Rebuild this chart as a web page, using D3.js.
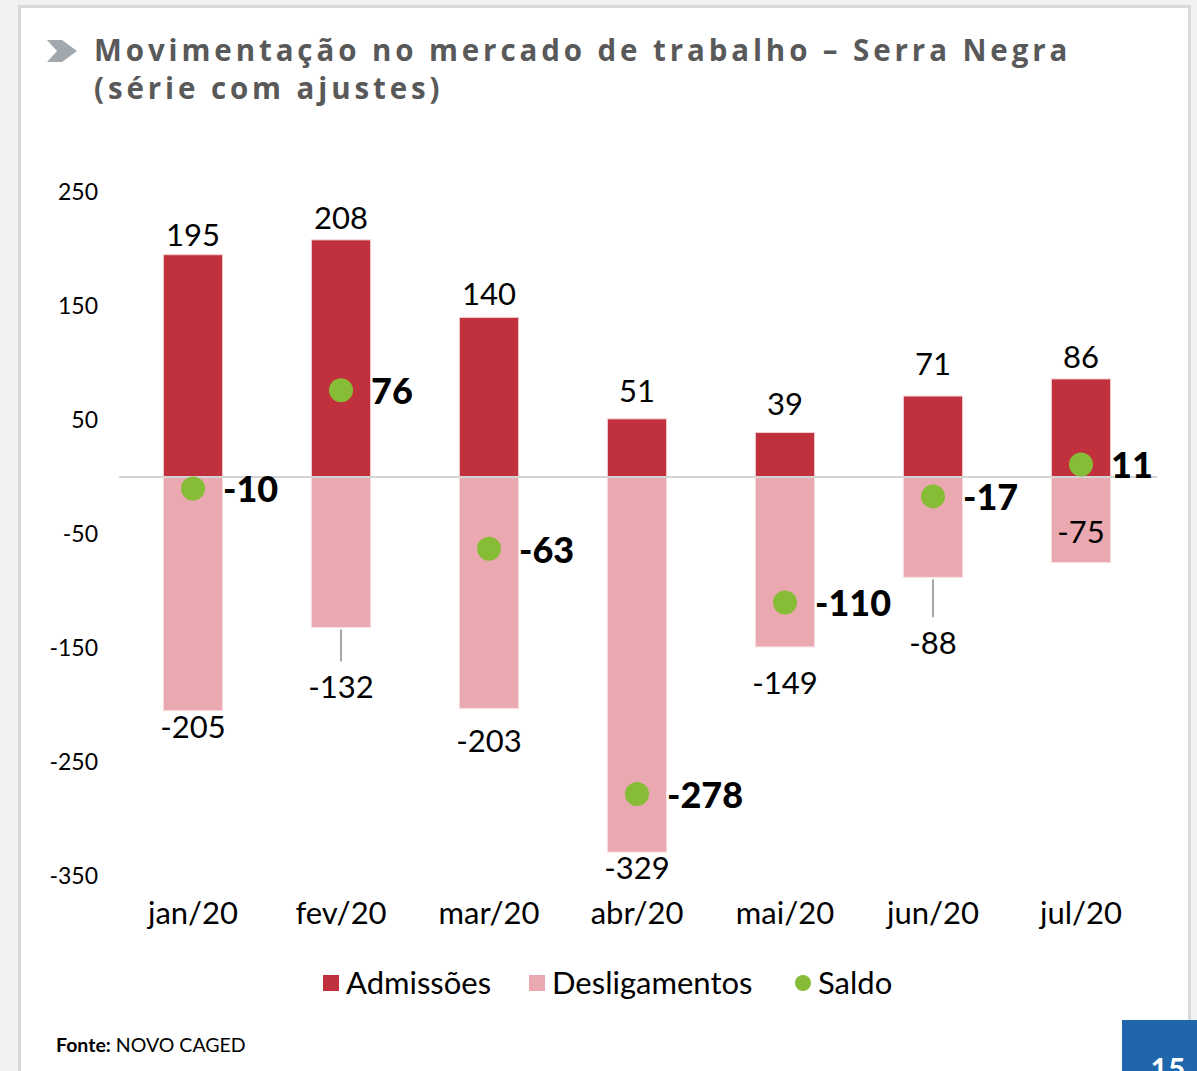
<!DOCTYPE html>
<html><head><meta charset="utf-8">
<script src="https://cdn.jsdelivr.net/npm/d3@7"></script>
<style>
html,body{margin:0;padding:0;background:#f2f2f2;}
svg{display:block;}
</style></head>
<body>
<script>
const categories = ["jan/20","fev/20","mar/20","abr/20","mai/20","jun/20","jul/20"];
const admissoes = [195, 208, 140, 51, 39, 71, 86];
const desligamentos = [-205, -132, -203, -329, -149, -88, -75];
const saldo = [-10, 76, -63, -278, -110, -17, 11];
const yTicks = [250, 150, 50, -50, -150, -250, -350];
const seriesNames = ["Admissões", "Desligamentos", "Saldo"];
const titleLines = ["Movimentação no mercado de trabalho – Serra Negra", "(série com ajustes)"];

const W = 1197, H = 1071;
const colors = {adm:"#c0303d", des:"#eaa9b0", sal:"#86bc36"};
const font = "Lato, 'DejaVu Sans', sans-serif";

const svg = d3.select("body").append("svg").attr("width", W).attr("height", H);

// card
svg.append("rect").attr("x",0).attr("y",0).attr("width",W).attr("height",H).attr("fill","#f2f2f2");
svg.append("rect").attr("x",19.5).attr("y",6.5).attr("width",1170).attr("height",1100)
  .attr("fill","#fff").attr("stroke","#d9d9d9").attr("stroke-width",3);

// title arrow
svg.append("path").attr("d","M47,40 L62,40 L77,51 L62,62 L47,62 L57,51 Z").attr("fill","#a2a9ae");
const title = svg.append("text").attr("font-family","'Open Sans', Lato, sans-serif").attr("font-weight",700)
  .attr("font-size",29.5).attr("fill","#595959").attr("letter-spacing",3.9);
titleLines.forEach((t,i)=>{
  title.append("tspan").attr("x",94).attr("y",61 + i*38).text(t);
});

const x = d3.scaleBand().domain(categories).range([119,1155]).paddingInner(0.6).paddingOuter(0.3);
const y = d3.scaleLinear().domain([-350,250]).range([876,192]);

// y axis labels
const yAxis = d3.axisLeft(y).tickValues(yTicks).tickSize(0).tickPadding(0).tickFormat(d=>String(d));
const ya = svg.append("g").attr("transform","translate(98,0)").call(yAxis);
ya.select(".domain").remove();
ya.selectAll("text").attr("font-family",font).attr("font-size",23).attr("fill","#000");

// bars
const g = svg.append("g");
g.selectAll(".adm").data(admissoes).join("rect")
  .attr("x",(d,i)=>x(categories[i])).attr("width",x.bandwidth())
  .attr("y",d=>y(d)).attr("height",d=>y(0)-y(d)).attr("fill",colors.adm)
  .attr("stroke","#f3d0d3").attr("stroke-width",1);
g.selectAll(".des").data(desligamentos).join("rect")
  .attr("x",(d,i)=>x(categories[i])).attr("width",x.bandwidth())
  .attr("y",y(0)).attr("height",d=>y(d)-y(0)).attr("fill",colors.des)
  .attr("stroke","#f8dde0").attr("stroke-width",1);

// zero line
svg.append("line").attr("x1",119).attr("x2",1157).attr("y1",y(0)).attr("y2",y(0))
  .attr("stroke","#d4d4d4").attr("stroke-width",2);

// x axis labels
const xAxis = d3.axisBottom(x).tickSize(0).tickPadding(0);
const xa = svg.append("g").attr("transform","translate(0,924)").call(xAxis);
xa.select(".domain").remove();
xa.selectAll("text").attr("dy",0).attr("font-family",font).attr("font-size",31).attr("fill","#000");

const cx = i => x(categories[i]) + x.bandwidth()/2;

// admissoes labels (extra lift for some labels as in the original)
const admLift = [0, 2, 3, 8, 9, 12, 2];
svg.append("g").selectAll("text").data(admissoes).join("text")
  .attr("x",(d,i)=>cx(i)).attr("y",(d,i)=>y(d)-9-admLift[i]).attr("text-anchor","middle")
  .attr("font-family",font).attr("font-size",31).attr("fill","#000").text(d=>d);

// desligamentos labels (with leader lines where shown)
const desLeader = [0, 44, 0, 0, 0, 50, 0];
const desDrop = [0, 0, 17, 0, 20, 0, 0];
const desInside = [false,false,false,false,false,false,true];
const dl = svg.append("g");
desligamentos.forEach((d,i)=>{
  let ly;
  if (desInside[i]) ly = y(d) - 20;
  else ly = y(d) + 27 + desLeader[i] + desDrop[i];
  if (desLeader[i] > 0) {
    dl.append("line").attr("x1",cx(i)).attr("x2",cx(i)).attr("y1",y(d)+2).attr("y2",y(d)+desLeader[i]-10)
      .attr("stroke","#a6a6a6").attr("stroke-width",2);
  }
  dl.append("text").attr("x",cx(i)).attr("y",ly).attr("text-anchor","middle")
    .attr("font-family",font).attr("font-size",31).attr("fill","#000").text(d);
});

// saldo dots
svg.append("g").selectAll("circle").data(saldo).join("circle")
  .attr("cx",(d,i)=>cx(i)).attr("cy",d=>y(d)).attr("r",12).attr("fill",colors.sal);
svg.append("g").selectAll("text").data(saldo).join("text")
  .attr("x",(d,i)=>cx(i)+30).attr("y",d=>y(d)+14).attr("font-family",font).attr("font-weight",900)
  .attr("font-size",36).attr("fill","#000").text(d=>d);

// legend
const leg = svg.append("g");
const legX = [323, 529, 795];
leg.append("rect").attr("x",legX[0]).attr("y",975).attr("width",16).attr("height",16).attr("fill",colors.adm);
leg.append("rect").attr("x",legX[1]).attr("y",975).attr("width",16).attr("height",16).attr("fill",colors.des);
leg.append("circle").attr("cx",legX[2]+8).attr("cy",983).attr("r",8).attr("fill",colors.sal);
seriesNames.forEach((n,i)=>{
  leg.append("text").attr("x",legX[i]+23).attr("y",994).attr("font-family",font).attr("font-size",31)
    .attr("fill","#000").text(n);
});

// footer
const ft = svg.append("text").attr("x",56).attr("y",1052).attr("font-family",font).attr("font-size",19.5).attr("fill","#000");
ft.append("tspan").attr("font-weight",700).text("Fonte:");
ft.append("tspan").text(" NOVO CAGED");

// page number box
svg.append("rect").attr("x",1122).attr("y",1020).attr("width",80).attr("height",60).attr("fill","#2066ad");
svg.append("text").attr("x",1168).attr("y",1080).attr("text-anchor","middle").attr("font-family",font)
  .attr("font-weight",700).attr("font-size",30).attr("fill","#fff").text("15");
</script>
</body></html>
